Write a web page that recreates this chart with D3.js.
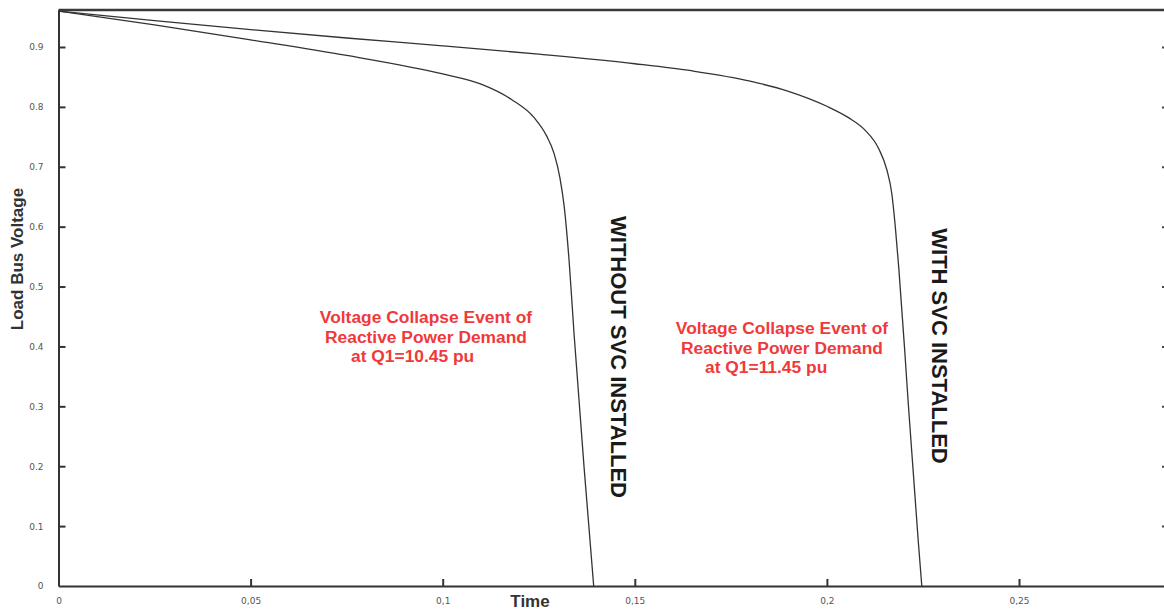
<!DOCTYPE html>
<html>
<head>
<meta charset="utf-8">
<script src="https://cdn.jsdelivr.net/npm/d3@7"></script>
<style>
  html, body { margin: 0; padding: 0; background: #fff; }
  svg { display: block; }
</style>
</head>
<body>
<svg id="chart" width="1164" height="610"></svg>
<script>
// ---- data ----
const timeNoSvc = [0, 0.025, 0.05, 0.075, 0.1, 0.11, 0.118, 0.1238, 0.127, 0.129, 0.1305, 0.1316, 0.1329, 0.1342, 0.1368, 0.1393];
const voltNoSvc = [0.96, 0.937, 0.912, 0.886, 0.855, 0.838, 0.812, 0.782, 0.752, 0.722, 0.682, 0.635, 0.543, 0.420, 0.198, 0];

const timeSvc = [0, 0.025, 0.05, 0.075, 0.1, 0.125, 0.15, 0.165, 0.18, 0.19, 0.2, 0.2056, 0.2098, 0.2135, 0.2156, 0.2169, 0.2178, 0.2187, 0.2203, 0.2212, 0.2225, 0.2238, 0.2247];
const voltSvc = [0.96, 0.944, 0.929, 0.915, 0.902, 0.888, 0.872, 0.860, 0.843, 0.826, 0.801, 0.782, 0.762, 0.730, 0.695, 0.655, 0.600, 0.532, 0.389, 0.303, 0.188, 0.073, 0];

const xTicks = [0, 0.05, 0.1, 0.15, 0.2, 0.25];
const xTickLabels = ["0", "0,05", "0,1", "0,15", "0,2", "0,25"];
const yTicks = [0, 0.1, 0.2, 0.3, 0.4, 0.5, 0.6, 0.7, 0.8, 0.9];
const yTickLabels = ["0", "0.1", "0.2", "0.3", "0.4", "0.5", "0.6", "0.7", "0.8", "0.9"];

const note1 = ["Voltage Collapse Event of", "Reactive Power Demand", "at Q1=10.45 pu"];
const note2 = ["Voltage Collapse Event of", "Reactive Power Demand", "at Q1=11.45 pu"];
const label1 = "WITHOUT SVC INSTALLED";
const label2 = "WITH SVC INSTALLED";

// ---- layout ----
const svg = d3.select("#chart");
const L = 58.5, R = 1165, T = 10, B = 586;
const x = d3.scaleLinear().domain([0, (R - L) / 3842]).range([L, R]);
const y = d3.scaleLinear().domain([0, (B - T) / 598.9]).range([B, T]);

const axisColor = "#333";
const tickFont = "'DejaVu Sans', Verdana, sans-serif";

// frame: top border
svg.append("line").attr("x1", L).attr("x2", R).attr("y1", T).attr("y2", T)
  .attr("stroke", "#3a3a3a").attr("stroke-width", 2.5);

// bottom axis
const xAxis = d3.axisBottom(x).tickValues(xTicks)
  .tickFormat((d, i) => xTickLabels[i]).tickSizeInner(-7).tickSizeOuter(0).tickPadding(12);
const gx = svg.append("g").attr("transform", `translate(0,${B})`).call(xAxis);
gx.select(".domain").attr("stroke", axisColor).attr("stroke-width", 2);
gx.selectAll(".tick line").attr("stroke", axisColor).attr("stroke-width", 2)
  .attr("opacity", d => d === 0 ? 0 : 1);
gx.selectAll(".tick text").attr("font-family", tickFont).attr("font-size", 9).attr("fill", "#555");

// left axis
const yAxis = d3.axisLeft(y).tickValues(yTicks)
  .tickFormat((d, i) => yTickLabels[i]).tickSizeInner(-7).tickSizeOuter(0).tickPadding(15);
const gy = svg.append("g").attr("transform", `translate(${L},0)`).call(yAxis);
gy.select(".domain").attr("stroke", axisColor).attr("stroke-width", 2);
gy.selectAll(".tick line").attr("stroke", axisColor).attr("stroke-width", 2)
  .attr("opacity", d => d === 0 ? 0 : 1);
gy.selectAll(".tick text").attr("font-family", tickFont).attr("font-size", 9).attr("fill", "#555");

// right axis (mirrored small ticks)
const yAxisR = d3.axisRight(y).tickValues(yTicks).tickFormat("").tickSizeInner(-3).tickSizeOuter(0);
const gyr = svg.append("g").attr("transform", `translate(${R},0)`).call(yAxisR);
gyr.select(".domain").attr("stroke", axisColor).attr("stroke-width", 2);
gyr.selectAll(".tick line").attr("stroke", "#444").attr("stroke-width", 2)
  .attr("opacity", d => d === 0 ? 0 : 1);

// curves
const line = d3.line().x(d => x(d[0])).y(d => y(d[1])).curve(d3.curveMonotoneX);
const seriesNo = timeNoSvc.map((t, i) => [t, voltNoSvc[i]]);
const seriesSvc = timeSvc.map((t, i) => [t, voltSvc[i]]);
[seriesNo, seriesSvc].forEach(s => {
  svg.append("path").datum(s).attr("d", line)
    .attr("fill", "none").attr("stroke", "#333").attr("stroke-width", 1.3);
});

// axis titles
svg.append("text").attr("transform", "translate(23,259) rotate(-90)")
  .attr("text-anchor", "middle").attr("font-family", "'Liberation Sans', Arial, sans-serif")
  .attr("font-weight", "bold").attr("font-size", 17).attr("fill", "#333").text("Load Bus Voltage");
svg.append("text").attr("x", 530).attr("y", 607)
  .attr("text-anchor", "middle").attr("font-family", "'Liberation Sans', Arial, sans-serif")
  .attr("font-weight", "bold").attr("font-size", 17).attr("fill", "#333").text("Time");

// red annotations
function note(lines, cx, y0, x3) {
  const g = svg.append("g").attr("font-family", "'Liberation Sans', Arial, sans-serif")
    .attr("font-weight", "bold").attr("font-size", 17.4).attr("fill", "#f03a3a");
  lines.forEach((s, i) => {
    const t = g.append("text").attr("y", y0 + i * 19.5).text(s);
    if (i < 2) t.attr("x", cx).attr("text-anchor", "middle");
    else t.attr("x", x3).attr("text-anchor", "start");
  });
}
note(note1, 426, 323, 351);
note(note2, 782, 334, 705);

// vertical labels
function vlabel(txt, cx, cy) {
  svg.append("text").attr("transform", `translate(${cx},${cy}) rotate(90)`)
    .attr("text-anchor", "middle").attr("dominant-baseline", "central")
    .attr("font-family", "'Liberation Sans', Arial, sans-serif").attr("font-weight", "bold")
    .attr("font-size", 22).attr("fill", "#1a1a1a").text(txt);
}
vlabel(label1, 618, 357);
vlabel(label2, 939, 346);
</script>
</body>
</html>
